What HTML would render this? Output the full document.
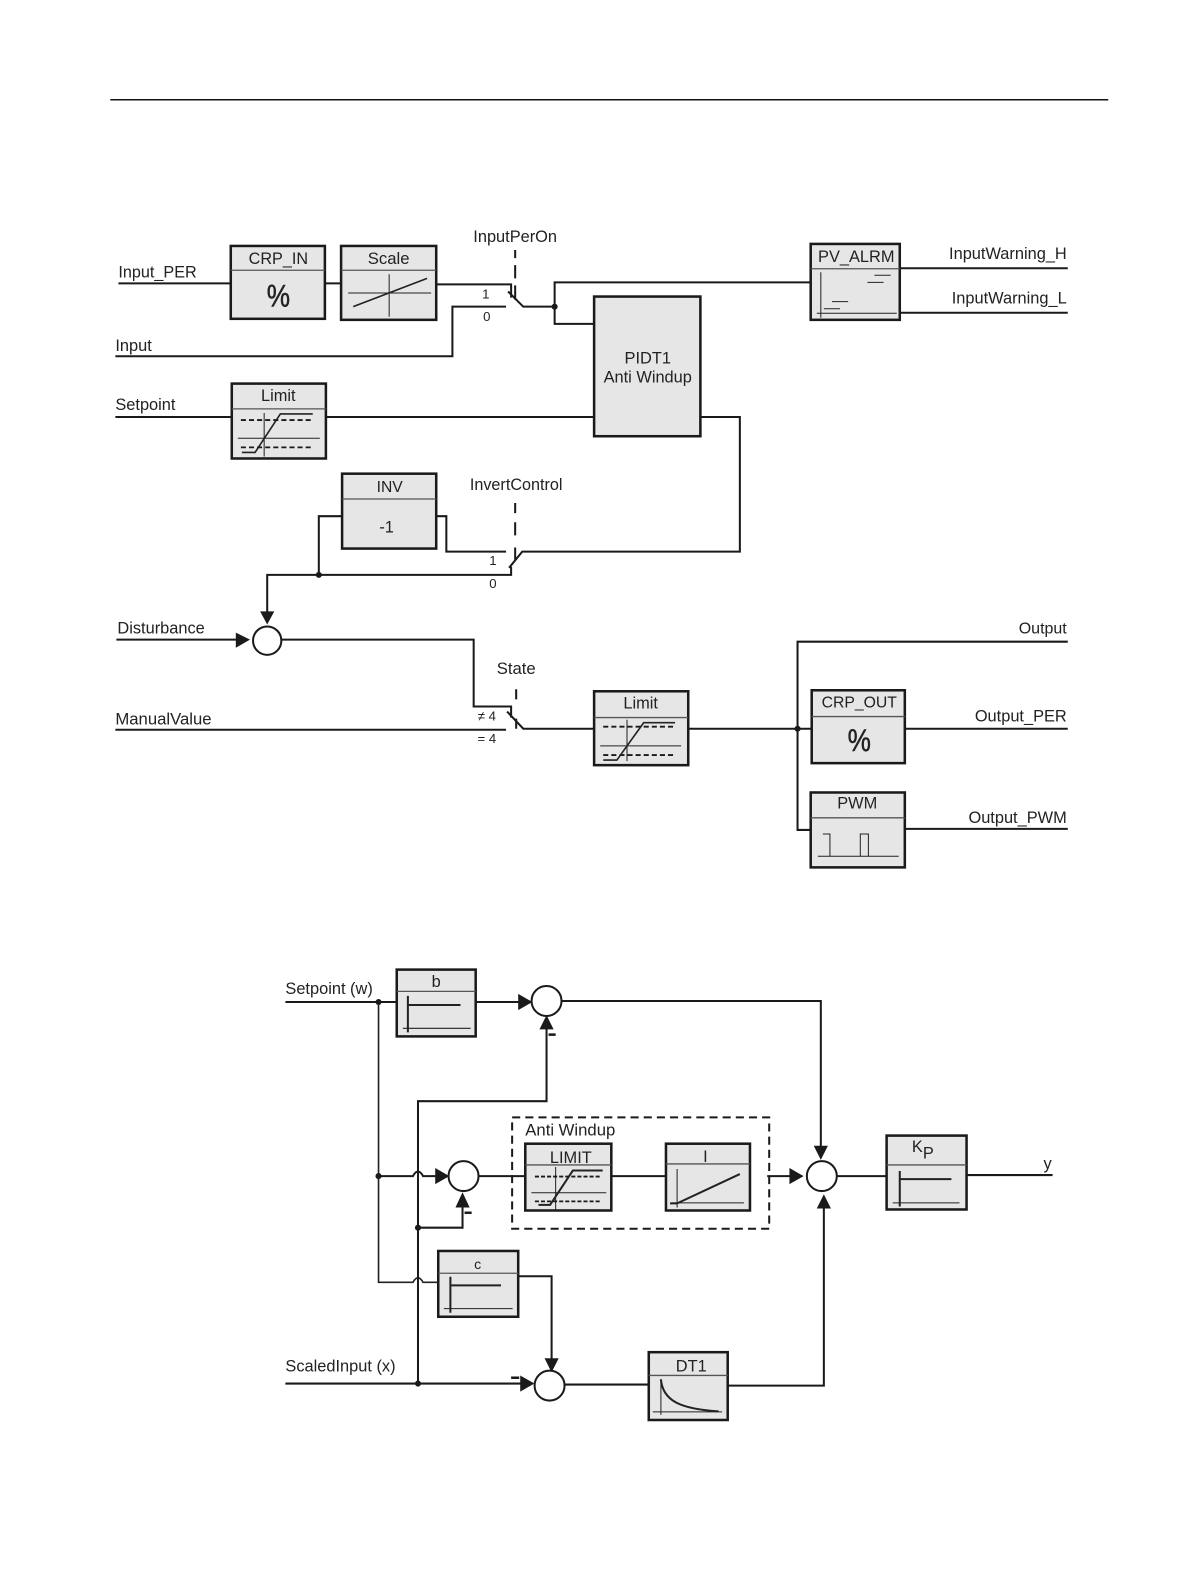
<!DOCTYPE html>
<html>
<head>
<meta charset="utf-8">
<style>
html,body{margin:0;padding:0;background:#fff;}
svg{display:block;}
text{font-family:"Liberation Sans",sans-serif;font-size:16.2px;fill:#222;}
.m{text-anchor:middle;}
.e{text-anchor:end;}
.s{font-size:13px;}
.w{fill:none;stroke:#1a1a1a;stroke-width:2;}
.t{fill:none;stroke:#222;stroke-width:1;}
.g{fill:none;stroke:#222;stroke-width:1.6;}
.k{fill:none;stroke:#222;stroke-width:2;}
.b{fill:#e6e6e6;stroke:#1a1a1a;stroke-width:2.5;}
.h{fill:none;stroke:#555;stroke-width:1.3;}
.d{fill:none;stroke:#1a1a1a;stroke-width:2;stroke-dasharray:8 5;}
.q{fill:none;stroke:#1a1a1a;stroke-width:1.8;stroke-dasharray:5 3;}
.l{fill:none;stroke:#1a1a1a;stroke-width:2;}
.c{fill:#fff;stroke:#1a1a1a;stroke-width:2;}
.a{fill:#1a1a1a;stroke:none;}
.p{font-size:31px;stroke:#222;stroke-width:.5;}
</style>
</head>
<body>
<svg width="1191" height="1587" viewBox="0 0 1176.75 1568" xmlns="http://www.w3.org/2000/svg">
<rect width="1177" height="1568" fill="#fff"/>
<line x1="109" y1="98.500" x2="1095" y2="98.500" stroke="#111" stroke-width="1.500"/>

<!-- Upper diagram wires -->
<path class="w" d="M117 280H228M321 280H337M431 281H505V294"/>
<path class="w" d="M502 288L517 303H548M114 352H447V303H500"/>
<path class="w" d="M587 320H548V279H801"/>
<path class="w" d="M889 265H1055M889 309H1055"/>
<path class="w" d="M114 412H229M322 412H587"/>
<path class="w" d="M692 412H731V545H516L503 561"/>
<path class="w" d="M338 510H315V568M431 510H441V545H500"/>
<path class="w" d="M264 606V568H505V560"/>
<path class="w" d="M115 632H234M278 632H468V698H505V709"/>
<path class="w" d="M114 721H500M501 703L517 720H587M680 720H802"/>
<path class="w" d="M1055 634H788V820H801M894 720H1055M894 819H1055"/>
<path class="l" d="M509 247V255M509 262V275M509 282V296M509 497V507M509 516V529M509 541V553M510 681V691M510 710V720"/>
<circle class="a" cx="548" cy="303" r="3"/>
<circle class="a" cx="315" cy="568" r="3"/>
<circle class="a" cx="788" cy="720" r="3"/>
<polygon class="a" points="257,604 271,604 264,617"/>
<polygon class="a" points="233,625 233,640 247,632"/>
<circle class="c" cx="264" cy="633" r="14"/>

<!-- CRP_IN -->
<rect class="b" x="228" y="243" width="93" height="72"/>
<line class="h" x1="228" y1="267" x2="321" y2="267"/>
<text class="m" x="275" y="261" style="font-size:16px">CRP_IN</text>
<text class="m p" x="275" y="303" textLength="23" lengthAdjust="spacingAndGlyphs">%</text>

<!-- Scale -->
<rect class="b" x="337" y="243" width="94" height="73"/>
<line class="h" x1="337" y1="267" x2="431" y2="267"/>
<text class="m" x="384" y="261" style="font-size:16.500px">Scale</text>
<path class="t" d="M384.500 271V313M344 289.500H426"/>
<path class="g" d="M349 303L422 275"/>

<!-- PV_ALRM -->
<rect class="b" x="801" y="241" width="88" height="75"/>
<line class="h" x1="801" y1="265.500" x2="889" y2="265.500"/>
<text class="m" x="846" y="259">PV_ALRM</text>
<path class="t" d="M811 269V314M807 309.500H886M864 272H880M857 279H873M822 298H838M814 305H830"/>

<!-- PIDT1 -->
<rect class="b" x="587" y="293" width="105" height="138"/>
<text class="m" x="640" y="359">PIDT1</text>
<text class="m" x="640" y="378">Anti Windup</text>

<!-- Limit 1 -->
<rect class="b" x="229" y="379" width="93" height="74"/>
<line class="h" x1="229" y1="404" x2="322" y2="404"/>
<text class="m" x="275" y="396">Limit</text>
<path class="t" d="M261 408V451M235 433H316"/>
<path class="q" d="M238 415H310M238 442H310"/>
<path class="g" d="M239 447H252L277 409H309"/>

<!-- INV -->
<rect class="b" x="338" y="468" width="93" height="74"/>
<line class="h" x1="338" y1="493" x2="431" y2="493"/>
<text class="m" x="385" y="486" style="font-size:15.500px">INV</text>
<text class="m" x="382" y="526">-1</text>

<!-- Limit 2 -->
<rect class="b" x="587" y="683" width="93" height="73"/>
<line class="h" x1="587" y1="709" x2="680" y2="709"/>
<text class="m" x="633" y="700">Limit</text>
<path class="t" d="M619.500 711V752M593 737H673"/>
<path class="q" d="M596 718H667M596 746H667"/>
<path class="g" d="M596 751H609.500L636 714H667"/>

<!-- CRP_OUT -->
<rect class="b" x="802" y="682" width="92" height="72"/>
<line class="h" x1="802" y1="708" x2="894" y2="708"/>
<text class="m" x="849" y="699" style="font-size:15.600px">CRP_OUT</text>
<text class="m p" x="849" y="742" textLength="23" lengthAdjust="spacingAndGlyphs">%</text>

<!-- PWM -->
<rect class="b" x="801" y="783" width="93" height="74"/>
<line class="h" x1="801" y1="808" x2="894" y2="808"/>
<text class="m" x="847" y="799">PWM</text>
<path class="t" d="M808 846H888M813 824H820V846M850 846V824H858V846"/>

<!-- Upper labels -->
<text x="117" y="274" style="font-size:16px">Input_PER</text>
<text x="114" y="347">Input</text>
<text x="114" y="405">Setpoint</text>
<text x="116" y="626">Disturbance</text>
<text x="114" y="716" style="font-size:16.500px">ManualValue</text>
<text class="m" x="509" y="239">InputPerOn</text>
<text class="m" x="510" y="484" style="font-size:16px">InvertControl</text>
<text class="m" x="510" y="666" style="font-size:16.500px">State</text>
<text class="m s" x="480" y="295">1</text>
<text class="m s" x="481" y="317">0</text>
<text class="m s" x="487" y="558">1</text>
<text class="m s" x="487" y="581">0</text>
<text class="m s" x="481" y="712">≠ 4</text>
<text class="m s" x="481" y="734">= 4</text>
<text class="e" x="1054" y="256">InputWarning_H</text>
<text class="e" x="1054" y="300">InputWarning_L</text>
<text class="e" x="1054" y="626" style="font-size:15.800px">Output</text>
<text class="e" x="1054" y="713">Output_PER</text>
<text class="e" x="1054" y="813">Output_PWM</text>

<!-- Lower diagram wires -->
<path class="w" d="M282 990H392M470 990H513"/>
<path class="g" d="M374 990V1267H408Q413 1258 418 1267H433"/>
<path class="w" d="M554 989H811V1133"/>
<path class="w" d="M540 1016V1088H413V1367"/>
<path class="w" d="M374 1162H408Q413 1153 418 1162H431M472 1162H519"/>
<path class="w" d="M413 1213H457V1193"/>
<path class="w" d="M604 1162H658M758 1162H781M827 1162H876M955 1161H1040"/>
<path class="w" d="M512 1261H545V1343M282 1367H515M558 1368H641M719 1369H814V1193"/>
<path class="d" d="M506 1104H760V1214H506Z"/>
<circle class="a" cx="374" cy="990" r="3"/>
<circle class="a" cx="374" cy="1162" r="3"/>
<circle class="a" cx="413" cy="1213" r="3"/>
<circle class="a" cx="413" cy="1367" r="3"/>

<polygon class="a" points="512,982 512,998 526,990"/>
<polygon class="a" points="533,1017 547,1017 540,1003"/>
<polygon class="a" points="430,1154 430,1170 444,1162"/>
<polygon class="a" points="450,1193 464,1193 457,1178"/>
<polygon class="a" points="780,1154 780,1170 794,1162"/>
<polygon class="a" points="804,1132 818,1132 811,1146"/>
<polygon class="a" points="807,1194 821,1194 814,1180"/>
<polygon class="a" points="538,1342 552,1342 545,1356"/>
<polygon class="a" points="514,1359 514,1375 528,1367"/>
<rect class="a" x="542" y="1021" width="7" height="2.500"/>
<rect class="a" x="459" y="1197" width="7" height="2.500"/>
<rect class="a" x="505" y="1360" width="8" height="2.500"/>
<circle class="c" cx="540" cy="989" r="14.800"/>
<circle class="c" cx="458" cy="1162" r="14.800"/>
<circle class="c" cx="812" cy="1162" r="14.800"/>
<circle class="c" cx="543" cy="1369" r="14.800"/>

<!-- b -->
<rect class="b" x="392" y="958" width="78" height="66"/>
<line class="h" x1="392" y1="979.500" x2="470" y2="979.500"/>
<text class="m" x="431" y="975">b</text>
<path class="t" d="M398 1016H465"/>
<path class="k" d="M403 984V1020M403 993H455"/>

<!-- LIMIT -->
<rect class="b" x="519" y="1130" width="85" height="66"/>
<line class="h" x1="519" y1="1151" x2="604" y2="1151"/>
<text class="m" x="564" y="1149">LIMIT</text>
<path class="t" d="M549 1153V1195M525 1178.500H599"/>
<path class="q" d="M528.500 1162.500H593M528.500 1187H593" style="stroke-dasharray:4 2"/>
<path class="k" d="M532 1190.500H543.500L566 1156.500H595.500"/>

<!-- I -->
<rect class="b" x="658" y="1130" width="83" height="66"/>
<line class="h" x1="658" y1="1150" x2="741" y2="1150"/>
<text class="m" x="697" y="1148">I</text>
<path class="t" d="M669 1155V1193M664 1188.500H735"/>
<path class="k" d="M662 1189H669L731 1160"/>

<!-- Kp -->
<rect class="b" x="876" y="1122" width="79" height="73"/>
<line class="h" x1="876" y1="1151" x2="955" y2="1151"/>
<text x="901" y="1138">K<tspan dy="6.500">P</tspan></text>
<path class="t" d="M882 1188.500H948"/>
<path class="k" d="M889 1157V1192M889 1165H940"/>
<text class="m" x="1035" y="1155">y</text>

<!-- c -->
<rect class="b" x="433" y="1236" width="79" height="65"/>
<line class="h" x1="433" y1="1258" x2="512" y2="1258"/>
<text class="m" x="472" y="1254" style="font-size:14px">c</text>
<path class="t" d="M438.500 1293H506.500"/>
<path class="k" d="M445 1261.500V1297M445 1270H495"/>

<!-- DT1 -->
<rect class="b" x="641" y="1336" width="78" height="67"/>
<line class="h" x1="641" y1="1359" x2="719" y2="1359"/>
<text class="m" x="683" y="1355">DT1</text>
<path class="t" d="M653 1362.500V1398M645 1395H713.500"/>
<path class="k" d="M653 1363C655 1384 672 1392 710 1394.500"/>

<!-- Lower labels -->
<text x="282" y="982">Setpoint (w)</text>
<text x="282" y="1355">ScaledInput (x)</text>
<text x="519" y="1122" style="font-size:16.500px">Anti Windup</text>
</svg>
</body>
</html>
